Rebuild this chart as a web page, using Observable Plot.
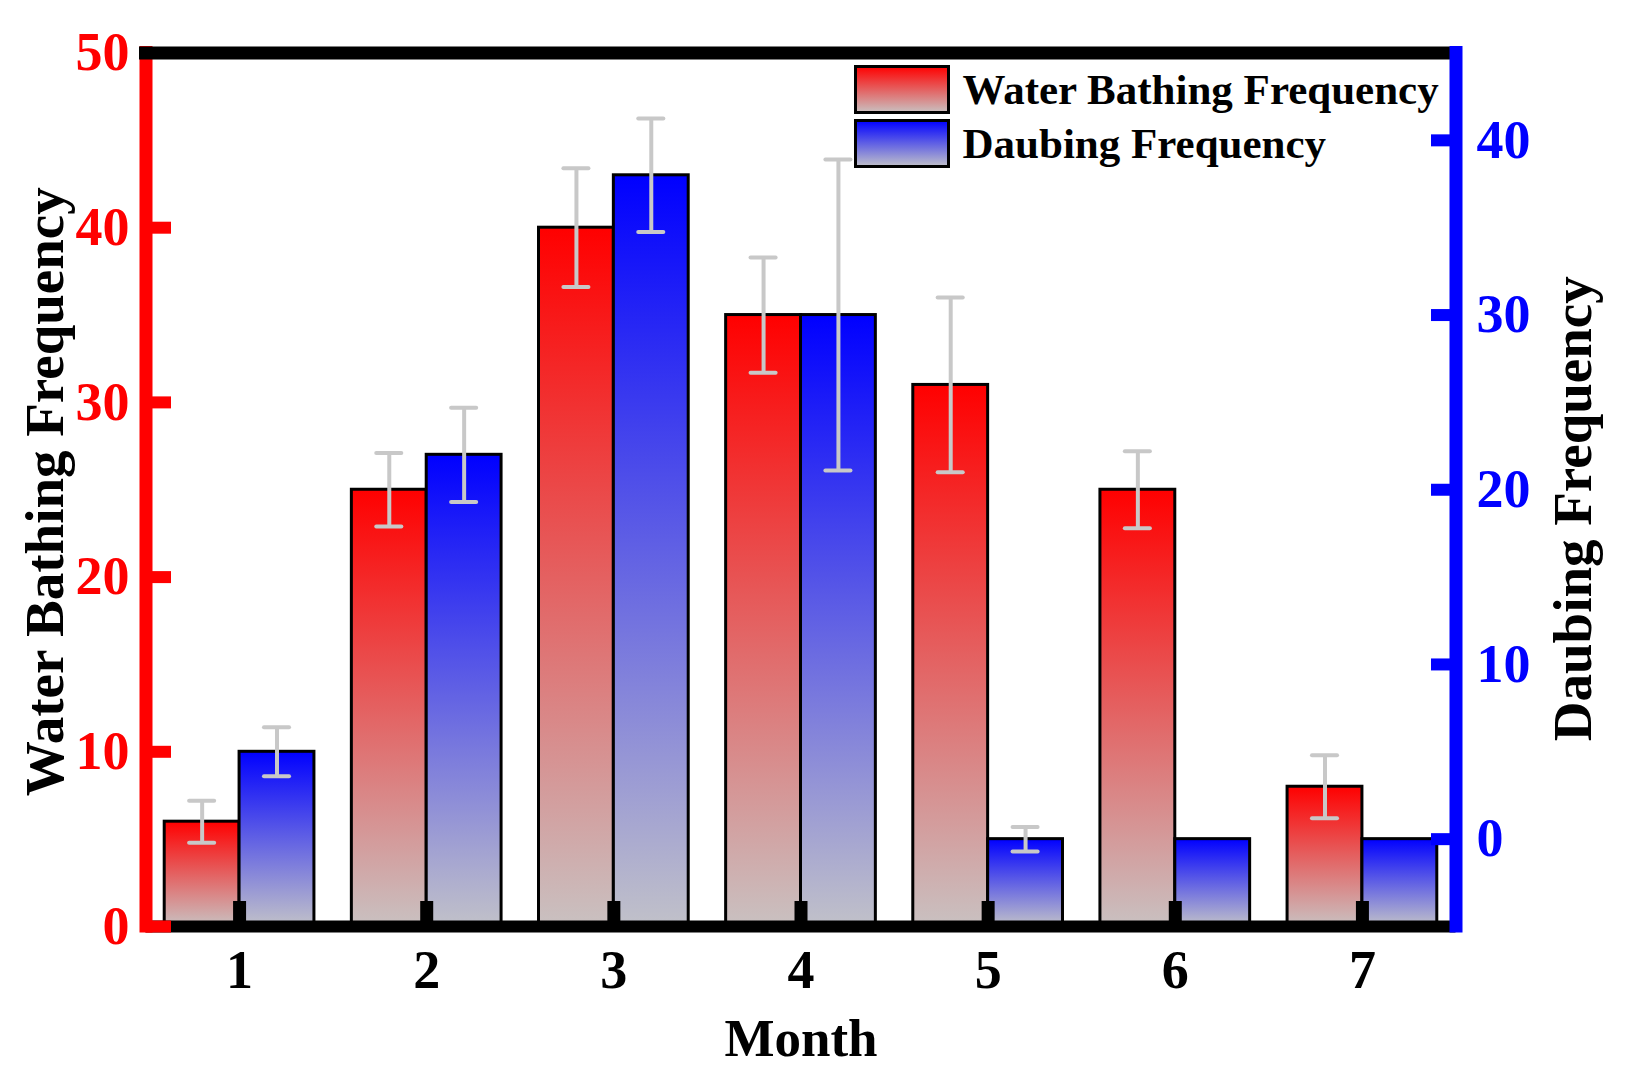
<!DOCTYPE html>
<html>
<head>
<meta charset="utf-8">
<script src="https://cdn.jsdelivr.net/npm/d3@7"></script>
<script src="https://cdn.jsdelivr.net/npm/@observablehq/plot@0.6"></script>
<style>
  body { margin: 0; background: #fff; }
  #chart svg { display: block; }
</style>
</head>
<body>
<div id="chart"></div>
<script>
const months = [1, 2, 3, 4, 5, 6, 7]
const water = [6, 25, 40, 35, 31, 25, 8]
const waterErr = [1.2, 2.1, 3.4, 3.3, 5, 2.2, 1.8]
const daubing = [5, 22, 38, 30, 0, 0, 0]
const daubingErr = [1.4, 2.7, 3.25, 8.9, 0.7, null, null]
const leftTicks = [0, 10, 20, 30, 40, 50]
const rightTicks = [0, 10, 20, 30, 40]
const seriesNames = ['Water Bathing Frequency', 'Daubing Frequency']

// right axis runs -5..45, so daubing is shifted onto the left (0..50) scale
const shift = 5
const grads = [['gradRed', '#ff0000', '#c9c1c1'], ['gradBlue', '#0000ff', '#c1c1c9']]

const waterRows = months.map((m, i) => ({x1: m - 0.4, x2: m, hi: water[i], err: waterErr[i]}))
const daubRows = months.map((m, i) => ({x1: m, x2: m + 0.4, hi: daubing[i] + shift, err: daubingErr[i]}))
const errs = waterRows.concat(daubRows).filter(d => d.err != null)
const caps = errs.flatMap(d => [d.hi - d.err, d.hi + d.err].map(y => ({x: (d.x1 + d.x2) / 2, y})))

function defs() {
  const g = d3.create('svg:defs')
  for (const [id, top, bottom] of grads) {
    const lg = g.append('linearGradient').attr('id', id)
      .attr('x1', 0).attr('y1', 0).attr('x2', 0).attr('y2', 1)
    lg.append('stop').attr('offset', '0%').attr('stop-color', top)
    lg.append('stop').attr('offset', '100%').attr('stop-color', bottom)
  }
  return g.node()
}

function legend(index, scales, values, dims) {
  const g = d3.create('svg:g')
    .attr('font-size', 43).attr('font-weight', 'bold').attr('text-anchor', 'start')
  const left = dims.width - dims.marginRight - 600
  seriesNames.forEach((name, i) => {
    const top = dims.marginTop + 14 + i * 54
    g.append('rect').attr('x', left).attr('y', top).attr('width', 93).attr('height', 46)
      .attr('fill', `url(#${grads[i][0]})`).attr('stroke', 'black').attr('stroke-width', 3)
    g.append('text').attr('x', left + 107).attr('y', top + 37).attr('fill', 'black').text(name)
  })
  return g.node()
}

const errStyle = {stroke: '#c8c8c8', strokeWidth: 4}

const chart = Plot.plot({
  width: 1625,
  height: 1071,
  marginLeft: 145.5,
  marginRight: 169.5,
  marginTop: 52.5,
  marginBottom: 145,
  style: {fontFamily: 'Liberation Serif', fontWeight: 'bold', background: 'white'},
  x: {domain: [0.5, 7.5]},
  y: {domain: [0, 50]},
  marks: [
    defs,
    Plot.rect(waterRows, {x1: 'x1', x2: 'x2', y1: 0, y2: 'hi', fill: 'url(#gradRed)', stroke: 'black', strokeWidth: 3}),
    Plot.rect(daubRows, {x1: 'x1', x2: 'x2', y1: 0, y2: 'hi', fill: 'url(#gradBlue)', stroke: 'black', strokeWidth: 3}),
    Plot.ruleX(errs, {x: d => (d.x1 + d.x2) / 2, y1: d => d.hi - d.err, y2: d => d.hi + d.err, ...errStyle}),
    Plot.ruleY(caps, {y: 'y', x1: d => d.x - 0.067, x2: d => d.x + 0.067, strokeLinecap: 'round', ...errStyle}),
    Plot.ruleY([0], {stroke: 'black', strokeWidth: 12}),
    Plot.axisX({ticks: months, tickFormat: d => d, tickSize: -25, tickPadding: 48, strokeWidth: 13,
      color: 'black', fontSize: 54, label: null}),
    Plot.ruleX([0.5], {stroke: 'red', strokeWidth: 13, strokeLinecap: 'square'}),
    Plot.axisY({anchor: 'left', ticks: leftTicks, tickSize: -25.5, tickPadding: 42, strokeWidth: 12,
      color: 'red', fontSize: 54, label: null}),
    Plot.ruleY([50], {stroke: 'black', strokeWidth: 13, strokeLinecap: 'square'}),
    Plot.ruleX([7.5], {stroke: 'blue', strokeWidth: 13, strokeLinecap: 'square'}),
    Plot.axisY({anchor: 'right', ticks: rightTicks.map(v => v + shift), tickFormat: v => v - shift,
      tickSize: -25.5, tickPadding: 46, strokeWidth: 12, color: 'blue', fontSize: 54, label: null}),
    legend,
    Plot.text(['Month'], {text: d => d, frameAnchor: 'bottom', lineAnchor: 'bottom', dy: 129, fontSize: 53, fill: 'black'}),
    Plot.text([seriesNames[0]], {text: d => d, frameAnchor: 'left', textAnchor: 'middle', rotate: -90,
      lineAnchor: 'bottom', dx: -83.5, dy: 2, fontSize: 55, fill: 'black'}),
    Plot.text([seriesNames[1]], {text: d => d, frameAnchor: 'right', textAnchor: 'middle', rotate: -90,
      lineAnchor: 'bottom', dx: 134.5, dy: 19, fontSize: 55, fill: 'black'})
  ]
})
d3.select('#chart').append(() => chart)
</script>
</body>
</html>
